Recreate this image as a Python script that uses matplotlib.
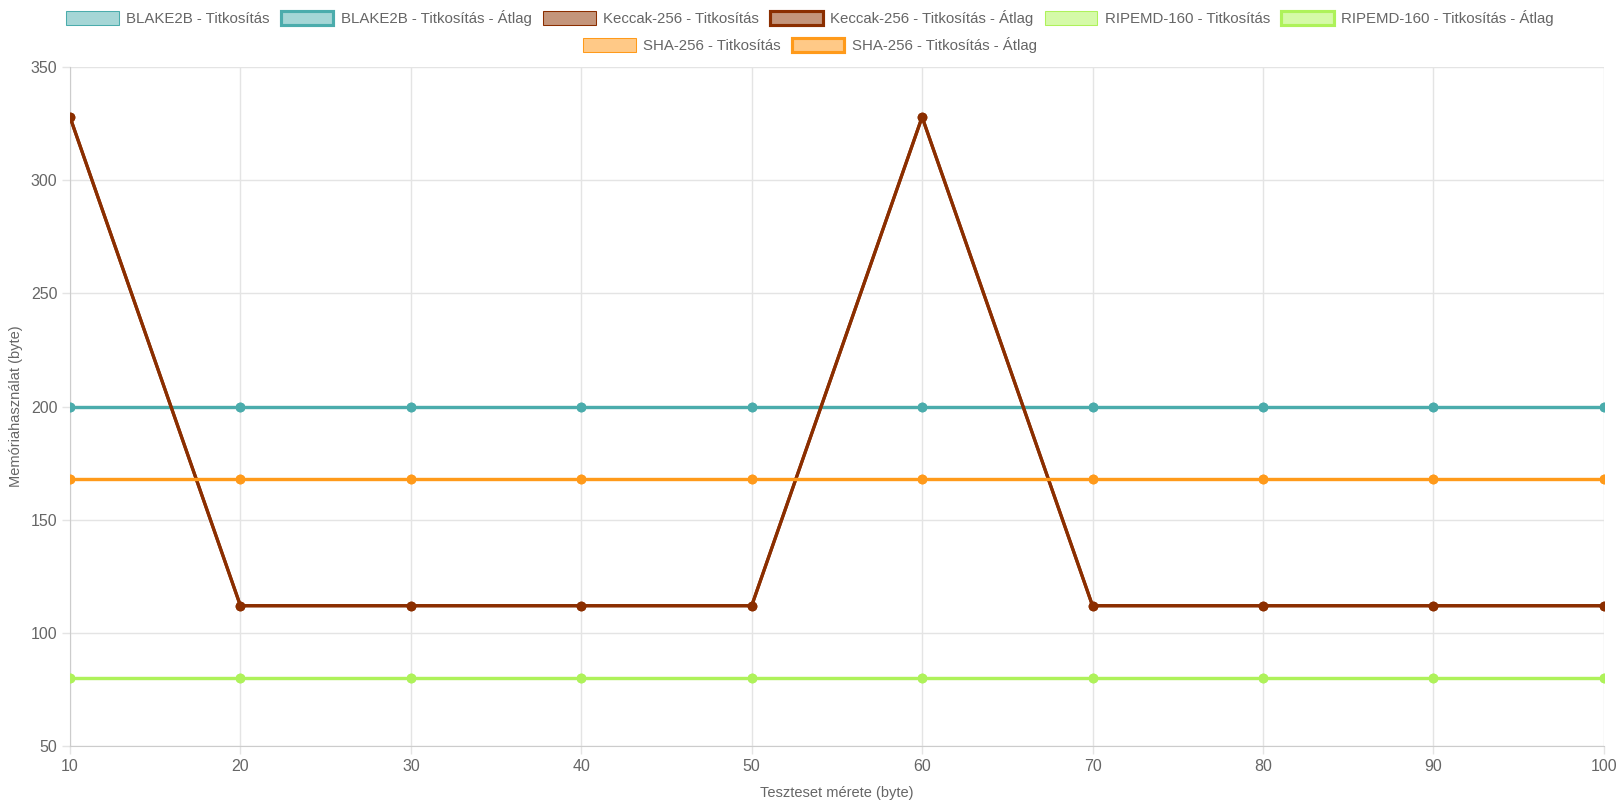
import numpy as np
import matplotlib
matplotlib.use('Agg')
import matplotlib.pyplot as plt
from matplotlib.patches import Rectangle

plt.rcParams['font.family'] = ['Liberation Sans', 'DejaVu Sans']

# test sizes (byte)
sizes = [10, 20, 30, 40, 50, 60, 70, 80, 90, 100]

blake2b = [200, 200, 200, 200, 200, 200, 200, 200, 200, 200]
blake2b_avg = [200, 200, 200, 200, 200, 200, 200, 200, 200, 200]
keccak = [328, 112, 112, 112, 112, 328, 112, 112, 112, 112]
keccak_avg = [328, 112, 112, 112, 112, 328, 112, 112, 112, 112]
ripemd = [80, 80, 80, 80, 80, 80, 80, 80, 80, 80]
ripemd_avg = [80, 80, 80, 80, 80, 80, 80, 80, 80, 80]
sha256 = [168, 168, 168, 168, 168, 168, 168, 168, 168, 168]
sha256_avg = [168, 168, 168, 168, 168, 168, 168, 168, 168, 168]

series = [
    ('BLAKE2B - Titkosítás', blake2b, '#4bacac', '#a5d6d6', 1),
    ('BLAKE2B - Titkosítás - Átlag', blake2b_avg, '#4bacac', '#a5d6d6', 3),
    ('Keccak-256 - Titkosítás', keccak, '#8b2e00', '#c4957b', 1),
    ('Keccak-256 - Titkosítás - Átlag', keccak_avg, '#8b2e00', '#c4957b', 3),
    ('RIPEMD-160 - Titkosítás', ripemd, '#aef25a', '#d5faa8', 1),
    ('RIPEMD-160 - Titkosítás - Átlag', ripemd_avg, '#aef25a', '#d5faa8', 3),
    ('SHA-256 - Titkosítás', sha256, '#ff9a1a', '#ffc987', 1),
    ('SHA-256 - Titkosítás - Átlag', sha256_avg, '#ff9a1a', '#ffc987', 3),
]

text_col = '#666666'
grid_col = '#e4e4e4'

fig = plt.figure(figsize=(16.2, 8.1), dpi=100)
ax = fig.add_axes([0.0432, 0.079, 0.9468, 0.838])

for name, vals, col, fill, lw in series:
    ax.plot(sizes, vals, color=col, lw=2.3, marker='o', markersize=7,
            markeredgewidth=0, zorder=3)

ax.set_xlim(10, 100)
ax.set_ylim(50, 350)
ax.set_xticks(sizes)
ax.set_yticks(np.arange(50, 351, 50))
ax.grid(True, color=grid_col, lw=1)
ax.set_axisbelow(True)
for s in ['top', 'right']:
    ax.spines[s].set_visible(False)
for s in ['left', 'bottom']:
    ax.spines[s].set_color('#cccccc')
ax.tick_params(length=6, width=1, color=grid_col, labelcolor=text_col,
               labelsize=11.5, pad=3)
ax.set_xlabel('Teszteset mérete (byte)', color=text_col, fontsize=10.5, labelpad=9)
ax.set_ylabel('Memóriahasználat (byte)', color=text_col, fontsize=10.5, labelpad=6)

# legend, two centred rows like the original
handles = [Rectangle((0, 0), 1, 1, facecolor=f, edgecolor=c, lw=lw * 0.75)
           for _, _, c, f, lw in series]
labels = [s[0] for s in series]
kw = dict(frameon=False, fontsize=10.8, handlelength=3.5, handleheight=1.1,
          handletextpad=0.5, columnspacing=0.75, labelcolor=text_col)
fig.legend(handles[:6], labels[:6], loc='center', ncol=6,
           bbox_to_anchor=(0.5, 1 - 18 / 810), **kw)
fig.legend(handles[6:], labels[6:], loc='center', ncol=2,
           bbox_to_anchor=(0.5, 1 - 45 / 810), **kw)

plt.savefig('out.png', dpi=100)
